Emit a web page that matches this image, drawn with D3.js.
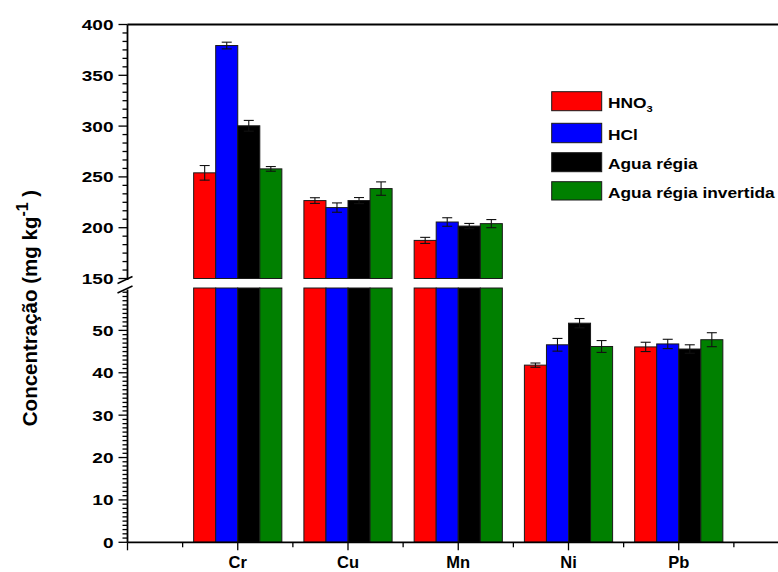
<!DOCTYPE html>
<html><head><meta charset="utf-8">
<script src="https://cdn.jsdelivr.net/npm/d3@7"></script>
<style>html,body{margin:0;padding:0;background:#fff;}svg{display:block;}</style>
</head><body>
<svg id="c" width="778" height="572"></svg>
<script>
const categories = ["Cr", "Cu", "Mn", "Ni", "Pb"];
const seriesNames = ["HNO3", "HCl", "Agua régia", "Agua régia invertida"];
const seriesColors = ["#ff0000", "#0000ff", "#000000", "#008000"];
const hno3 = [254.0, 226.7, 187.5, 41.8, 46.1];
const hno3Err = [7.2, 2.8, 3.0, 0.5, 1.1];
const hcl = [379.3, 219.8, 205.6, 46.6, 46.8];
const hclErr = [3.3, 4.6, 4.2, 1.5, 1.1];
const aguaRegia = [300.3, 226.7, 201.6, 51.7, 45.6];
const aguaRegiaErr = [5.3, 3.0, 2.6, 1.1, 1.0];
const aguaRegiaInv = [257.9, 238.5, 204.0, 46.2, 47.8];
const aguaRegiaInvErr = [2.3, 6.6, 4.0, 1.4, 1.65];
const upperTicks = [150, 200, 250, 300, 350, 400];
const lowerTicks = [0, 10, 20, 30, 40, 50];

const values = [hno3, hcl, aguaRegia, aguaRegiaInv];
const errors = [hno3Err, hclErr, aguaRegiaErr, aguaRegiaInvErr];

const svg = d3.select("#c");
const FONT = "'Liberation Sans', Arial, Helvetica, sans-serif";

const x = d3.scaleLinear().domain([0, 6]).range([127.5, 789]);
const yTop = d3.scaleLinear().domain([150, 400]).range([278.5, 24.5]);
const yBot = d3.scaleLinear().domain([0, 60]).range([542.3, 288]);
const BREAK_LOW = 60, BREAK_HIGH = 150;
const barW = 0.2;
const axisX = x(0);

// bars
const bars = svg.append("g");
values.forEach((vals, s) => {
  vals.forEach((v, i) => {
    const xl = x(i + 1 + (s - 2) * barW);
    const w = x(barW) - x(0);
    const gBar = bars.append("g");
    const topLow = Math.min(v, BREAK_LOW);
    gBar.append("rect")
      .attr("x", xl).attr("width", w)
      .attr("y", yBot(topLow)).attr("height", yBot(0) - yBot(topLow))
      .attr("fill", seriesColors[s]).attr("stroke", "#1a1a1a").attr("stroke-width", 1);
    if (v > BREAK_HIGH) {
      gBar.append("rect")
        .attr("x", xl).attr("width", w)
        .attr("y", yTop(v)).attr("height", yTop(BREAK_HIGH) - yTop(v))
        .attr("fill", seriesColors[s]).attr("stroke", "#1a1a1a").attr("stroke-width", 1);
    }
    // error bar
    const ys = v > BREAK_HIGH ? yTop : yBot;
    const e = errors[s][i];
    const cx = xl + w / 2;
    const eg = svg.append("g").attr("stroke", "#111").attr("stroke-width", 1.1);
    eg.append("line").attr("x1", cx).attr("x2", cx).attr("y1", ys(v - e)).attr("y2", ys(v + e));
    [v - e, v + e].forEach(t => {
      eg.append("line").attr("x1", cx - 5).attr("x2", cx + 5).attr("y1", ys(t)).attr("y2", ys(t));
    });
  });
});

// axes lines
const axG = svg.append("g").attr("stroke", "#000").attr("fill", "none");
axG.append("line").attr("x1", axisX).attr("x2", 778).attr("y1", yTop(400)).attr("y2", yTop(400)).attr("stroke-width", 1.8);
axG.append("line").attr("x1", axisX).attr("x2", 778).attr("y1", yBot(0)).attr("y2", yBot(0)).attr("stroke-width", 1.8);
axG.append("line").attr("x1", axisX).attr("x2", axisX).attr("y1", yTop(400)).attr("y2", 280).attr("stroke-width", 1.8);
axG.append("line").attr("x1", axisX).attr("x2", axisX).attr("y1", 289.5).attr("y2", yBot(0)).attr("stroke-width", 1.8);
// break marks
axG.append("line").attr("x1", axisX - 10).attr("y1", 283.5).attr("x2", axisX + 5).attr("y2", 276.5).attr("stroke-width", 1.5);
axG.append("line").attr("x1", axisX - 10).attr("y1", 293).attr("x2", axisX + 5).attr("y2", 286).attr("stroke-width", 1.5);

// y ticks top
const tickG = svg.append("g").attr("stroke", "#000").attr("stroke-width", 1.3);
for (let k = 0; k < upperTicks.length; k++) {
  const t = upperTicks[k];
  tickG.append("line").attr("x1", axisX - 9).attr("x2", axisX).attr("y1", yTop(t)).attr("y2", yTop(t));
  if (k < upperTicks.length - 1) {
    const step = (upperTicks[k + 1] - t) / 6;
    for (let m = 1; m < 6; m++) {
      const tv = t + m * step;
      tickG.append("line").attr("x1", axisX - 5).attr("x2", axisX).attr("y1", yTop(tv)).attr("y2", yTop(tv));
    }
  }
}
// y ticks bottom
for (let k = 0; k < lowerTicks.length; k++) {
  const t = lowerTicks[k];
  tickG.append("line").attr("x1", axisX - 9).attr("x2", axisX).attr("y1", yBot(t)).attr("y2", yBot(t));
  const next = k < lowerTicks.length - 1 ? lowerTicks[k + 1] : BREAK_LOW;
  for (let tv = t + 1; tv < next; tv++) {
    tickG.append("line").attr("x1", axisX - 5).attr("x2", axisX).attr("y1", yBot(tv)).attr("y2", yBot(tv));
  }
}
// x ticks
for (let v = 0; v <= 6; v += 0.5) {
  const major = Number.isInteger(v);
  tickG.append("line").attr("x1", x(v)).attr("x2", x(v)).attr("y1", yBot(0)).attr("y2", yBot(0) + (major ? 8 : 5));
}

// tick labels
const labG = svg.append("g").attr("font-family", FONT).attr("font-weight", "bold").attr("fill", "#000");
function stretchedText(g, tx, ty, txt, size, sx, anchor) {
  return g.append("text")
    .attr("transform", `translate(${tx},${ty}) scale(${sx},1)`)
    .attr("text-anchor", anchor).attr("font-size", size).text(txt);
}
upperTicks.forEach(t => stretchedText(labG, 113.5, yTop(t) + 5.4, t, 15, 1.27, "end"));
lowerTicks.forEach(t => stretchedText(labG, 113.5, yBot(t) + 5.4, t, 15, 1.27, "end"));
categories.forEach((c, i) => {
  labG.append("text").attr("x", x(i + 1)).attr("y", 567.5).attr("text-anchor", "middle")
    .attr("font-size", 16.5).text(c);
});

// y axis title
const yt = labG.append("text")
  .attr("transform", "translate(36.5,308) rotate(-90)")
  .attr("text-anchor", "middle").attr("font-size", 20.5);
yt.append("tspan").text("Concentração (mg kg");
yt.append("tspan").attr("font-size", 16).attr("dy", -9).text("-1");
yt.append("tspan").attr("dy", 9).text(" )");

// legend
const legendY = [91.7, 123.3, 152.7, 181.7];
const legendH = [19, 19.4, 19, 18.3];
const leg = svg.append("g");
seriesNames.forEach((name, s) => {
  leg.append("rect").attr("x", 551.7).attr("y", legendY[s]).attr("width", 50).attr("height", legendH[s])
    .attr("fill", seriesColors[s]).attr("stroke", "#1a1a1a").attr("stroke-width", 1);
  const baseY = legendY[s] + legendH[s] / 2 + (s === 0 ? 6.5 : 7.2);
  const t = leg.append("text")
    .attr("transform", `translate(608,${baseY}) scale(1.24,1)`)
    .attr("font-family", FONT).attr("font-weight", "bold").attr("font-size", 14);
  if (name === "HNO3") {
    t.append("tspan").text("HNO");
    t.append("tspan").attr("font-size", 9).attr("dy", 4).text("3");
  } else {
    t.text(name);
  }
});
</script>
</body></html>
